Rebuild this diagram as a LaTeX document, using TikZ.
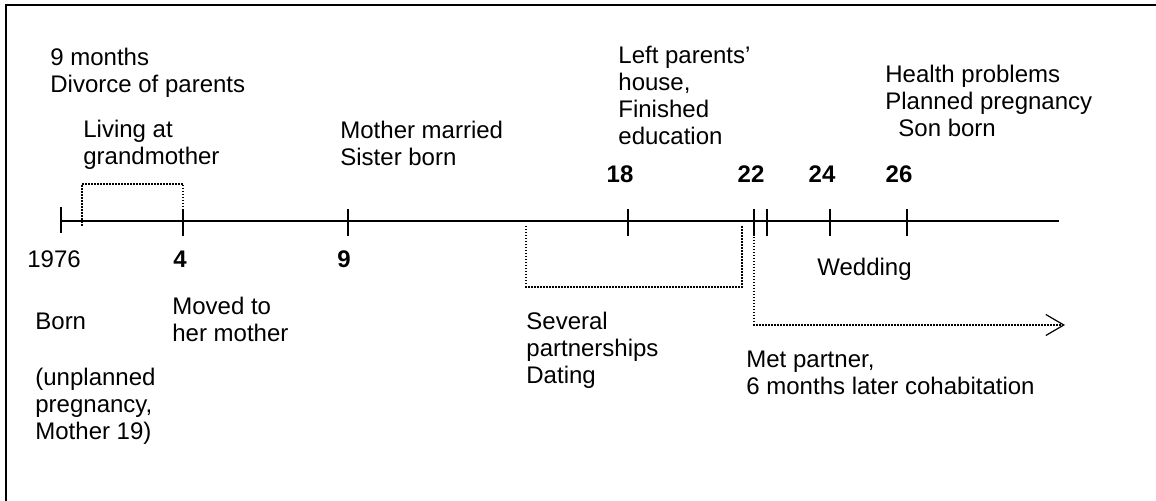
\documentclass[tikz,border=0pt]{standalone}
\usepackage{fontspec}
\setmainfont{Liberation Sans}
\usetikzlibrary{arrows.meta}
\tikzstyle{event} = [anchor=base west, align=left, inner sep=0pt, font=\fontsize{12}{13.5}\selectfont]
\tikzstyle{age} = [anchor=base, inner sep=0pt, font=\fontsize{12}{13.5}\selectfont\bfseries]
\tikzstyle{axis} = [line width=0.9pt]
\tikzstyle{tick} = [line width=0.8pt]
\tikzstyle{bracket} = [line width=0.75pt, dash pattern=on 0.75pt off 0.75pt]

\begin{document}
\begin{tikzpicture}[x=0.5pt, y=-0.5pt]

		\useasboundingbox (0,0) rectangle (1156,501);
		\draw [line width=1pt] (6,505) -- (6,5) -- (1160,5);

		% time line
		\coordinate (t0) at (61,221);
		\coordinate (t4) at (183,221);
		\coordinate (t9) at (348,221);
		\coordinate (t18) at (628,221);
		\coordinate (t22) at (754,221);
		\coordinate (t22b) at (767,221);
		\coordinate (t24) at (830,221);
		\coordinate (t26) at (907,221);
		\coordinate (tend) at (1059,221);
		\draw [axis] (t0) -- (tend);

		\draw [tick] (61,207) -- (61,233);
		\draw [tick] (t4) ++(0,-12) -- ++(0,27);
		\draw [tick] (t9) ++(0,-12) -- ++(0,27);
		\draw [tick] (t18) ++(0,-12) -- ++(0,27);
		\draw [tick] (t22) ++(0,-12) -- ++(0,27);
		\draw [tick] (t22b) ++(0,-12) -- ++(0,27);
		\draw [tick] (t24) ++(0,-12) -- ++(0,27);
		\draw [tick] (t26) ++(0,-12) -- ++(0,27);

		% ages (base = last line)
		\node (year) [event] at (27,268) {1976};
		\node (age4) [age] at (180,268) {4};
		\node (age9) [age] at (344,268) {9};
		\node (age18) [age] at (620,183) {18};
		\node (age22) [age] at (751,183) {22};
		\node (age24) [age] at (822,183) {24};
		\node (age26) [age] at (899,183) {26};

		% events above
		\node (divorce) [event] at (50,93) {9 months\\Divorce of parents};
		\node (grandma) [event] at (83,165) {Living at\\grandmother};
		\node (married) [event] at (340,166) {Mother married\\Sister born};
		\node (lefthome) [event] at (618,145) {Left parents'\\house,\\Finished\\education};
		\node (health) [event] at (885,137) {Health problems\\Planned pregnancy\\\hspace{6.5pt}Son born};

		% events below
		\node (born) [event] at (35,330) {Born};
		\node (unplanned) [event] at (35,440) {(unplanned\\pregnancy,\\Mother 19)};
		\node (moved) [event] at (172,342) {Moved to\\her mother};
		\node (dating) [event] at (526,384) {Several\\partnerships\\Dating};
		\node (wedding) [event] at (817,276) {Wedding};
		\node (partner) [event] at (746,395) {Met partner,\\6 months later cohabitation};

		% periods
		\coordinate (gm_start) at (82,226);
		\draw [bracket] (gm_start) -- ++(0,-42) -| (t4);

		\coordinate (date_start) at (526,226);
		\coordinate (date_end) at (742,226);
		\draw [bracket] (date_start) -- ++(0,61) -| (date_end);

		\coordinate (met_start) at (754,228);
		\coordinate (met_end) at (1065,325);
		\draw [bracket, -{Straight Barb[length=9pt, width=10.5pt, line width=0.6pt]}] (met_start) |- (met_end);

	\end{tikzpicture}
\end{document}
